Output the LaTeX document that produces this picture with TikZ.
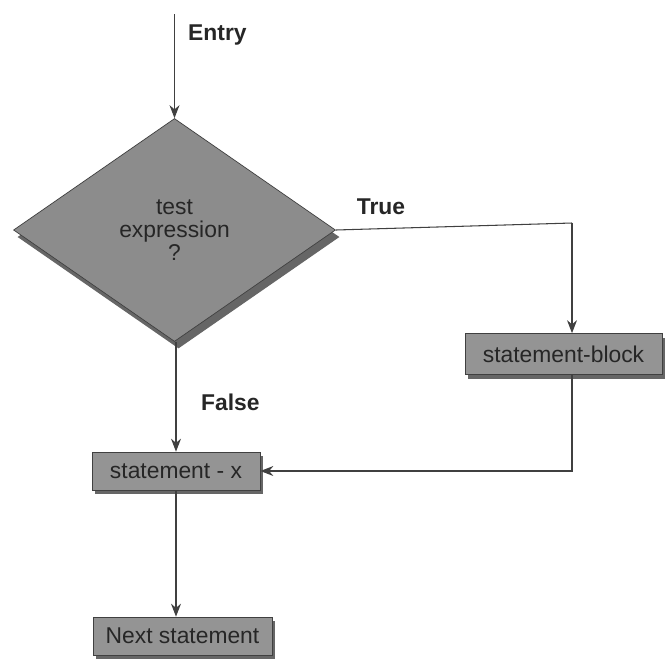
\documentclass[tikz,border=0pt]{standalone}
\usepackage{fontspec}
\setmainfont{Liberation Sans}
\usetikzlibrary{shapes.geometric,shadows,arrows.meta}
\definecolor{boxgray}{gray}{0.58}
\definecolor{diagray}{gray}{0.55}
\definecolor{linegray}{gray}{0.25}
\begin{document}
\begin{tikzpicture}[font=\fontsize{13}{15}\selectfont,
    box_node/.style={rectangle,draw=linegray,fill=boxgray,inner sep=1pt,
        drop shadow={shadow xshift=0.06cm,shadow yshift=-0.08cm,fill=black!75,opacity=0.8}},
    test_node/.style={diamond,draw=linegray,fill=diagray,inner sep=0pt,
        minimum width=6.44cm,minimum height=4.46cm,align=center,
        drop shadow={shadow xshift=0.08cm,shadow yshift=-0.14cm,fill=black!75,opacity=0.8}},
    label_node/.style={font=\fontsize{13}{15}\selectfont\bfseries},
    flow/.style={draw=linegray,line width=0.6pt,-{Stealth[length=2.6mm,width=2mm]}},
    text=black!85]
    \useasboundingbox (0,0) rectangle (13.34,-13.24);

    \coordinate (entry) at (3.49,-0.28);
    \node[test_node] (test) at (3.49,-4.6) {test\\[-2pt]expression\\[-2pt]?};
    \node[box_node, minimum width=3.94cm, minimum height=0.82cm] (blk) at (11.27,-7.08) {statement-block};
    \node[box_node, minimum width=3.36cm, minimum height=0.76cm] (stx) at (3.52,-9.42) {statement - x};
    \node[box_node, minimum width=3.58cm, minimum height=0.76cm] (next) at (3.65,-12.72) {Next statement};
    \coordinate (tcorner) at (11.44,-4.46);

    \node[label_node, anchor=west] (lentry) at (3.64,-0.7) {Entry};
    \node[label_node] (ltrue) at (7.62,-4.14) {True};
    \node[label_node, anchor=west] (lfalse) at (3.9,-8.04) {False};

    \draw[flow] (entry) -- (test.north);
    \draw[draw=linegray,line width=0.6pt] (test.east) -- (tcorner);
    \draw[flow] (tcorner) -- (tcorner |- blk.north);
    \draw[flow] (test.south -| stx.north) -- (stx.north);
    \draw[flow] (tcorner |- blk.south) |- (stx.east);
    \draw[flow] (stx.south) -- (stx.south |- next.north);

\end{tikzpicture}
\end{document}
